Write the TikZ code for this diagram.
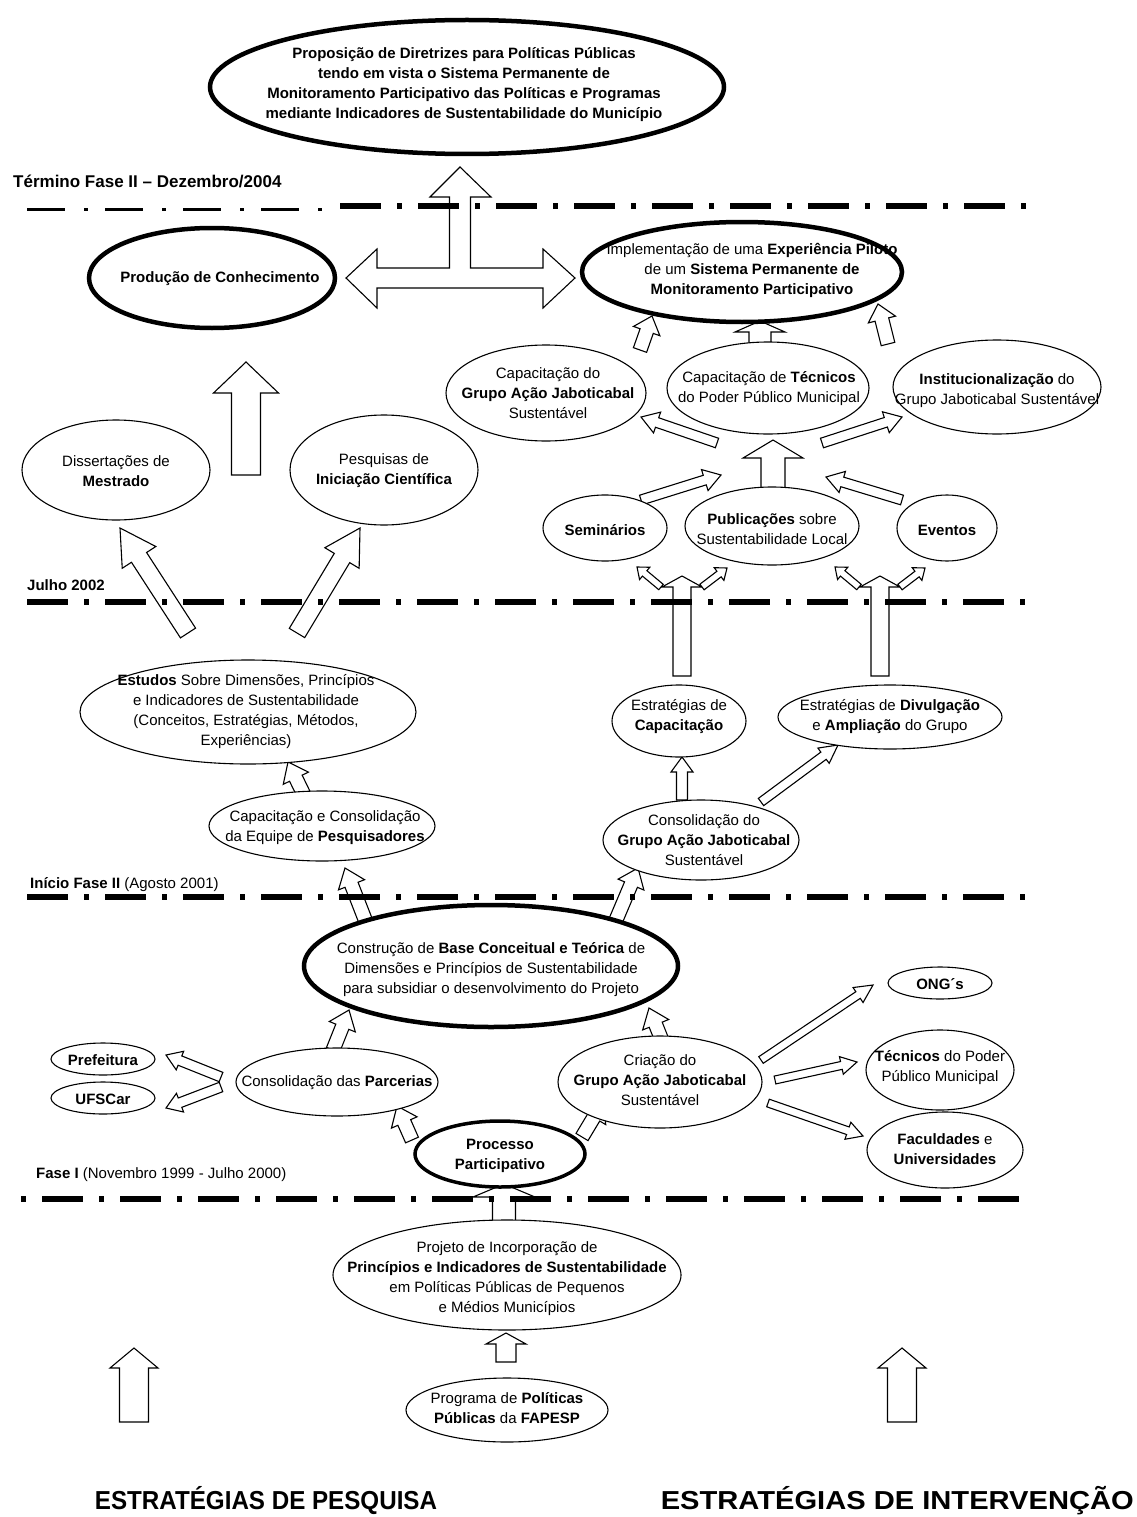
\documentclass[tikz,border=0pt]{standalone}
\usepackage{fontspec}
\setmainfont{Liberation Sans}
\usetikzlibrary{calc,shapes.geometric}

% hollow block arrow from #1 (tail) to #2 (tip):
% #3 half shaft width, #4 half head width, #5 head length
\newcommand\hollowarrow[5]{%
  \coordinate (ha-base) at ($(#2)!#5pt!(#1)$);
  \filldraw[arrowbox] ($(#1)!#3pt!90:(#2)$) -- ($(ha-base)!#3pt!-90:(#1)$)
    -- ($(ha-base)!#4pt!-90:(#1)$) -- (#2) -- ($(ha-base)!#4pt!90:(#1)$)
    -- ($(ha-base)!#3pt!90:(#1)$) -- ($(#1)!#3pt!-90:(#2)$) -- cycle;}

\tikzset{
  ell/.style={ellipse, draw, line width=1.1pt, fill=white, inner sep=0pt},
  bigell/.style={ell, line width=4.5pt},
  txt/.style={align=center, inner sep=0pt, font=\fontsize{15}{20}\selectfont},
  btxt/.style={txt, font=\fontsize{15}{20}\selectfont\bfseries},
  phase/.style={anchor=base west, inner sep=0pt, font=\fontsize{15}{18}\selectfont},
  arrowbox/.style={draw, fill=white, line width=1.1pt, line join=miter},
  timeline/.style={line width=6pt, dash pattern=on 41pt off 16pt on 5pt off 16pt},
  thintimeline/.style={line width=3pt, dash pattern=on 38pt off 19pt on 4pt off 17pt},
  strategy/.style={anchor=base, inner sep=0pt, font=\fontsize{26}{30}\selectfont\bfseries}
}

\begin{document}
\begin{tikzpicture}[x=1pt, y=-1pt]
\useasboundingbox[fill=white] (0,0) rectangle (1136,1517);

% ---------- arrow end points ----------
\coordinate (imp-a-s) at (640,350);  \coordinate (imp-a-e) at (652,316);
\coordinate (imp-b-s) at (760,344);  \coordinate (imp-b-e) at (760,321);
\coordinate (imp-c-s) at (888,344);  \coordinate (imp-c-e) at (878,304);

\coordinate (hub-l-s) at (717,443);  \coordinate (hub-l-e) at (641,417);
\coordinate (hub-c-s) at (773,489);  \coordinate (hub-c-e) at (773,440);
\coordinate (hub-r-s) at (822,443);  \coordinate (hub-r-e) at (902,417);
\coordinate (sem-s)   at (641,500);  \coordinate (sem-e)   at (721,475);
\coordinate (evt-s)   at (902,500);  \coordinate (evt-e)   at (826,477);

\coordinate (prod-s) at (246,475);   \coordinate (prod-e) at (246,362);
\coordinate (mest-s) at (188,633);   \coordinate (mest-e) at (120,528);
\coordinate (inic-s) at (297,633);   \coordinate (inic-e) at (360,528);

\coordinate (capv-s) at (682,676);   \coordinate (capv-e) at (682,576);
\coordinate (divv-s) at (880,676);   \coordinate (divv-e) at (880,576);
\coordinate (capl-s) at (661,587);   \coordinate (capl-e) at (637,567);
\coordinate (capr-s) at (702,587);   \coordinate (capr-e) at (727,568);
\coordinate (divl-s) at (859,587);   \coordinate (divl-e) at (835,567);
\coordinate (divr-s) at (900,587);   \coordinate (divr-e) at (925,568);

\coordinate (est-s)  at (304,795);   \coordinate (est-e)  at (288,762);
\coordinate (ecap-s) at (682,800);   \coordinate (ecap-e) at (682,757);
\coordinate (ediv-s) at (761,802);   \coordinate (ediv-e) at (838,745);

\coordinate (cc-s)   at (366,922);   \coordinate (cc-e)   at (345,868);
\coordinate (cg-s)   at (616,920);   \coordinate (cg-e)   at (638,868);
\coordinate (pb-s)   at (333,1050);  \coordinate (pb-e)   at (349,1010);
\coordinate (cb-s)   at (663,1043);  \coordinate (cb-e)   at (649,1008);
\coordinate (pref-s) at (221,1077);  \coordinate (pref-e) at (166,1055);
\coordinate (ufs-s)  at (221,1087);  \coordinate (ufs-e)  at (166,1108);
\coordinate (ong-s)  at (761,1060);  \coordinate (ong-e)  at (873,985);
\coordinate (tec-s)  at (775,1080);  \coordinate (tec-e)  at (857,1062);
\coordinate (fac-s)  at (768,1103);  \coordinate (fac-e)  at (863,1136);
\coordinate (ppar-s) at (412,1140);  \coordinate (ppar-e) at (397,1106);
\coordinate (pcri-s) at (582,1137);  \coordinate (pcri-e) at (603,1102);

\coordinate (proj-s) at (504,1226);  \coordinate (proj-e) at (504,1184);
\coordinate (prog-s) at (506,1362);  \coordinate (prog-e) at (506,1333);
\coordinate (pesq-s) at (134,1422);  \coordinate (pesq-e) at (134,1348);
\coordinate (intv-s) at (902,1422);  \coordinate (intv-e) at (902,1348);

% ---------- block arrows ----------
\hollowarrow{imp-a-s}{imp-a-e}{7}{14}{16}
\hollowarrow{imp-b-s}{imp-b-e}{11}{25}{11}
\hollowarrow{imp-c-s}{imp-c-e}{7}{14}{16}
\hollowarrow{hub-l-s}{hub-l-e}{5}{11}{17}
\hollowarrow{hub-c-s}{hub-c-e}{12}{30}{18}
\hollowarrow{hub-r-s}{hub-r-e}{5}{11}{17}
\hollowarrow{sem-s}{sem-e}{5}{11}{17}
\hollowarrow{evt-s}{evt-e}{5}{11}{17}
\hollowarrow{prod-s}{prod-e}{14.5}{32.5}{31}
\hollowarrow{mest-s}{mest-e}{9}{20}{35}
\hollowarrow{inic-s}{inic-e}{9}{20}{35}
\hollowarrow{capv-s}{capv-e}{9}{20}{11}
\hollowarrow{divv-s}{divv-e}{9}{20}{11}
\hollowarrow{capl-s}{capl-e}{3.5}{8}{10}
\hollowarrow{capr-s}{capr-e}{3.5}{8}{10}
\hollowarrow{divl-s}{divl-e}{3.5}{8}{10}
\hollowarrow{divr-s}{divr-e}{3.5}{8}{10}
\hollowarrow{est-s}{est-e}{7}{14}{18}
\hollowarrow{ecap-s}{ecap-e}{5.5}{11}{15}
\hollowarrow{ediv-s}{ediv-e}{4.5}{9.5}{18}
\hollowarrow{cc-s}{cc-e}{7}{14}{18}
\hollowarrow{cg-s}{cg-e}{7}{14}{18}
\hollowarrow{pb-s}{pb-e}{7}{14}{18}
\hollowarrow{cb-s}{cb-e}{7}{14}{18}
\hollowarrow{pref-s}{pref-e}{5}{10}{15}
\hollowarrow{ufs-s}{ufs-e}{5}{10}{15}
\hollowarrow{ong-s}{ong-e}{4}{9}{18}
\hollowarrow{tec-s}{tec-e}{4}{9}{16}
\hollowarrow{fac-s}{fac-e}{4}{9}{16}
\hollowarrow{ppar-s}{ppar-e}{7}{14}{18}
\hollowarrow{pcri-s}{pcri-e}{7}{14}{18}
\hollowarrow{proj-s}{proj-e}{11.5}{31}{13}
\hollowarrow{prog-s}{prog-e}{10}{20}{11}
\hollowarrow{pesq-s}{pesq-e}{14.5}{24}{20}
\hollowarrow{intv-s}{intv-e}{14.5}{24}{20}

% three-headed arrow joining the two results to the final proposal
\filldraw[arrowbox] (460,167) -- (491,197) -- (470.5,197) -- (470.5,268) -- (543,268)
  -- (543,249) -- (575,278) -- (543,308) -- (543,288) -- (377,288) -- (377,308)
  -- (346,278) -- (377,249) -- (377,268) -- (449.5,268) -- (449.5,197) -- (430,197) -- cycle;

% ---------- phase lines ----------
\draw[thintimeline] (27,209) -- (330,209);
\draw[timeline] (340,206) -- (1028,206);
\draw[timeline] (27,602) -- (1028,602);
\draw[timeline] (27,897) -- (1028,897);
\draw[timeline, dash phase=56pt] (20,1199) -- (1024,1199);

\node[phase, font=\fontsize{17}{20}\selectfont\bfseries] (ph-end) at (13,188) {Término Fase II – Dezembro/2004};
\node[phase, font=\fontsize{15}{18}\selectfont\bfseries] (ph-jul) at (27,590) {Julho 2002};
\node[phase] (ph-ini) at (30,888) {\textbf{Início Fase II} (Agosto 2001)};
\node[phase] (ph-one) at (36,1178) {\textbf{Fase I} (Novembro 1999 - Julho 2000)};

% ---------- ellipses ----------
\node[bigell, minimum width=514pt, minimum height=134pt] (prop) at (467,87) {};
\node[btxt] (prop-t) at (464,85)
  {Proposição de Diretrizes para Políticas Públicas\\tendo em vista o Sistema Permanente de\\Monitoramento Participativo das Políticas e Programas\\mediante Indicadores de Sustentabilidade do Município};

\node[bigell, minimum width=246pt, minimum height=100pt] (prod) at (212,278) {};
\node[btxt] (prod-t) at (220,279) {Produção de Conhecimento};

\node[bigell, minimum width=320pt, minimum height=100pt] (impl) at (742,272) {};
\node[txt] (impl-t) at (752,270) {Implementação de uma \textbf{Experiência Piloto}\\de um \textbf{Sistema Permanente de}\\\textbf{Monitoramento Participativo}};

\node[ell, minimum width=200pt, minimum height=96pt] (capg) at (546,393) {};
\node[txt] (capg-t) at (548,393) {Capacitação do\\\textbf{Grupo Ação Jaboticabal}\\Sustentável};

\node[ell, minimum width=202pt, minimum height=92pt] (capt) at (768,388) {};
\node[txt] (capt-t) at (769,389) {Capacitação de \textbf{Técnicos}\\do Poder Público Municipal};

\node[ell, minimum width=208pt, minimum height=94pt] (inst) at (997,387) {};
\node[txt] (inst-t) at (997,391) {\textbf{Institucionalização} do\\Grupo Jaboticabal Sustentável};

\node[ell, minimum width=124pt, minimum height=66pt] (semi) at (605,528) {};
\node[btxt] (semi-t) at (605,530) {Seminários};

\node[ell, minimum width=174pt, minimum height=78pt] (publ) at (772,526) {};
\node[txt] (publ-t) at (772,529) {\textbf{Publicações} sobre\\Sustentabilidade Local};

\node[ell, minimum width=100pt, minimum height=66pt] (even) at (947,528) {};
\node[btxt] (even-t) at (947,530) {Eventos};

\node[ell, minimum width=188pt, minimum height=100pt] (mest) at (116,470) {};
\node[txt] (mest-t) at (116,471) {Dissertações de\\\textbf{Mestrado}};

\node[ell, minimum width=188pt, minimum height=110pt] (inic) at (384,470) {};
\node[txt] (inic-t) at (384,471) {Pesquisas de\\\textbf{Iniciação Científica}};

\node[ell, minimum width=336pt, minimum height=104pt] (estu) at (248,712) {};
\node[txt] (estu-t) at (246,712) {\textbf{Estudos} Sobre Dimensões, Princípios\\e Indicadores de Sustentabilidade\\(Conceitos, Estratégias, Métodos,\\Experiências)};

\node[ell, minimum width=226pt, minimum height=70pt] (ccon) at (322,826) {};
\node[txt] (ccon-t) at (325,828) {Capacitação e Consolidação\\da Equipe de \textbf{Pesquisadores}};

\node[ell, minimum width=134pt, minimum height=72pt] (ecap) at (679,721) {};
\node[txt] (ecap-t) at (679,717) {Estratégias de\\\textbf{Capacitação}};

\node[ell, minimum width=224pt, minimum height=64pt] (ediv) at (890,717) {};
\node[txt] (ediv-t) at (890,717) {Estratégias de \textbf{Divulgação}\\e \textbf{Ampliação} do Grupo};

\node[ell, minimum width=196pt, minimum height=80pt] (cgru) at (701,840) {};
\node[txt] (cgru-t) at (704,840) {Consolidação do\\\textbf{Grupo Ação Jaboticabal}\\Sustentável};

\node[bigell, minimum width=374pt, minimum height=122pt] (base) at (491,966) {};
\node[txt] (base-t) at (491,970) {Construção de \textbf{Base Conceitual e Teórica} de\\Dimensões e Princípios de Sustentabilidade\\para subsidiar o desenvolvimento do Projeto};

\node[ell, minimum width=104pt, minimum height=32pt] (ongs) at (940,983) {};
\node[btxt] (ongs-t) at (940,984) {ONG´s};

\node[ell, minimum width=148pt, minimum height=80pt] (tecn) at (940,1070) {};
\node[txt] (tecn-t) at (940,1068) {\textbf{Técnicos} do Poder\\Público Municipal};

\node[ell, minimum width=156pt, minimum height=76pt] (facu) at (945,1150) {};
\node[btxt] (facu-t) at (945,1149) {Faculdades \textmd{e}\\Universidades};

\node[ell, minimum width=104pt, minimum height=32pt] (pref) at (103,1059) {};
\node[btxt] (pref-t) at (103,1060) {Prefeitura};

\node[ell, minimum width=104pt, minimum height=32pt] (ufsc) at (103,1098) {};
\node[btxt] (ufsc-t) at (103,1099) {UFSCar};

\node[ell, minimum width=202pt, minimum height=68pt] (parc) at (337,1082) {};
\node[txt] (parc-t) at (337,1083) {Consolidação das \textbf{Parcerias}};

\node[ell, minimum width=204pt, minimum height=92pt] (cria) at (660,1082) {};
\node[txt] (cria-t) at (660,1080) {Criação do\\\textbf{Grupo Ação Jaboticabal}\\Sustentável};

\node[bigell, line width=3.5pt, minimum width=170pt, minimum height=66pt] (proc) at (500,1154) {};
\node[btxt] (proc-t) at (500,1156) {Processo\\Participativo};

\node[ell, minimum width=348pt, minimum height=110pt] (proj) at (507,1275) {};
\node[txt] (proj-t) at (507,1279) {Projeto de Incorporação de\\\textbf{Princípios e Indicadores de Sustentabilidade}\\em Políticas Públicas de Pequenos\\e Médios Municípios};

\node[ell, minimum width=202pt, minimum height=64pt] (prog) at (507,1410) {};
\node[txt] (prog-t) at (507,1408) {Programa de \textbf{Políticas}\\\textbf{Públicas} da \textbf{FAPESP}};

% ---------- strategy headings ----------
\node[strategy, xscale=0.93] (pesq) at (266,1509) {ESTRATÉGIAS DE PESQUISA};
\node[strategy, anchor=base east, xscale=1.12] (intv) at (1134,1509) {ESTRATÉGIAS DE INTERVENÇÃO};
\end{tikzpicture}
\end{document}
